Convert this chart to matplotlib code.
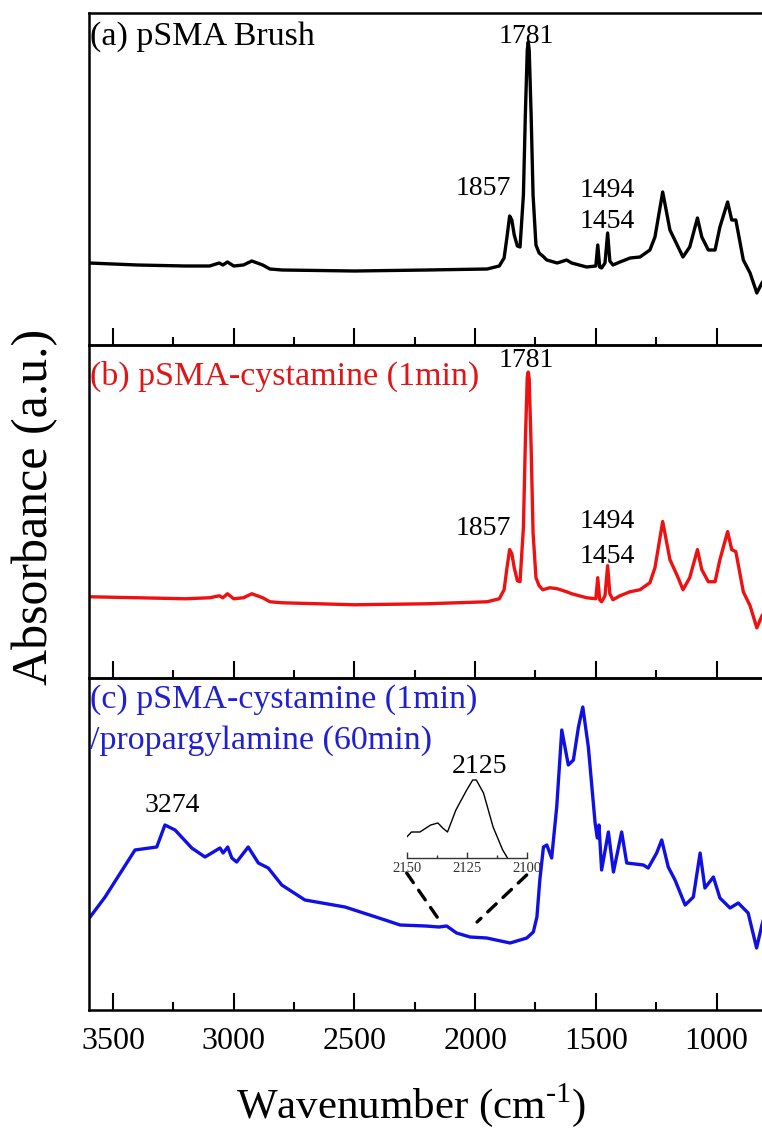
import matplotlib
matplotlib.use("Agg")
import matplotlib.pyplot as plt
from matplotlib.patches import ConnectionPatch
from matplotlib.ticker import MultipleLocator

plt.rcParams['font.family'] = ['Liberation Serif', 'DejaVu Serif']
plt.rcParams['mathtext.fontset'] = 'custom'
plt.rcParams['mathtext.rm'] = 'Liberation Serif'

# (a) pSMA brush
wn_a = [3600, 3400, 3200, 3100, 3060, 3045, 3026, 3000, 2960, 2925, 2880, 2850, 2800,
        2500, 2200, 1950, 1900, 1880, 1868, 1857, 1848, 1838, 1825, 1814, 1800, 1792,
        1784, 1780, 1776, 1768, 1760, 1748, 1735, 1720, 1703, 1660, 1621, 1600, 1538,
        1500, 1492, 1484, 1476, 1462, 1451, 1442, 1429, 1400, 1358, 1317, 1276, 1255,
        1223, 1193, 1159, 1139, 1111, 1079, 1061, 1034, 1006, 986, 954, 937, 920, 889,
        861, 833, 812, 800]
abs_a = [82, 80, 79, 79, 82, 80, 83, 79, 80, 84, 80, 76, 75,
         74, 75, 76, 79, 87, 108, 129, 125, 110, 99, 98, 150, 230,
         295, 303, 295, 230, 150, 100, 92, 89, 85, 82, 85, 82, 78,
         79, 100, 78, 77, 82, 112, 84, 80, 83, 87, 88, 95, 108,
         153, 115, 98, 88, 98, 127, 108, 95, 95, 118, 143, 125, 125, 85,
         72, 52, 62, 66]

# (b) pSMA-cystamine (1 min)
wn_b = [3600, 3400, 3200, 3100, 3060, 3045, 3026, 3000, 2960, 2925, 2880, 2850, 2800,
        2500, 2200, 1950, 1900, 1880, 1868, 1857, 1848, 1838, 1825, 1814, 1800, 1792,
        1784, 1780, 1776, 1768, 1760, 1748, 1735, 1720, 1690, 1660, 1621, 1600, 1538,
        1500, 1492, 1484, 1476, 1462, 1451, 1442, 1429, 1400, 1358, 1317, 1276, 1255,
        1223, 1193, 1159, 1139, 1111, 1079, 1061, 1034, 1006, 986, 954, 937, 920, 889,
        861, 833, 812, 800]
abs_b = [81, 80, 79, 80, 82, 80, 84, 79, 80, 84, 80, 76, 75,
         73, 74, 76, 79, 88, 110, 128, 124, 110, 97, 96, 150, 235,
         300, 305, 298, 230, 145, 100, 92, 88, 90, 89, 86, 84, 80,
         79, 100, 78, 76, 82, 112, 84, 78, 82, 86, 88, 95, 110,
         156, 118, 100, 88, 100, 128, 108, 96, 96, 118, 146, 128, 126, 86,
         72, 50, 62, 66]

# (c) pSMA-cystamine (1 min) / propargylamine (60 min)
wn_c = [3595, 3533, 3409, 3319, 3285, 3243, 3174, 3119, 3057, 3044, 3025, 3008, 2988,
        2940, 2898, 2857, 2801, 2705, 2539, 2373, 2311, 2205, 2150, 2118, 2077, 2021,
        1952, 1855, 1786, 1759, 1744, 1732, 1717, 1703, 1683, 1662, 1641, 1614, 1593,
        1572, 1554, 1531, 1503, 1494, 1487, 1476, 1448, 1427, 1393, 1372, 1303, 1283,
        1248, 1227, 1200, 1172, 1130, 1096, 1068, 1048, 1013, 986, 944, 910, 869, 834,
        812, 800]
abs_c = [93, 113, 160, 163, 185, 180, 162, 153, 162, 157, 163, 152, 148,
         163, 147, 142, 125, 110, 103, 90, 85, 84, 83, 84, 77, 73,
         72, 67, 72, 78, 93, 130, 163, 165, 152, 203, 280, 245, 250,
         283, 303, 263, 187, 172, 185, 140, 178, 138, 178, 147, 145, 142,
         157, 170, 143, 130, 105, 113, 157, 122, 133, 112, 102, 107, 97, 62,
         85, 95]

# inset: C≡C stretch region
wn_ins = [2150, 2148, 2144.5, 2140, 2137, 2135, 2133, 2129.5, 2125, 2122.5, 2121,
          2118, 2114, 2110, 2108]
abs_ins = [21, 26, 26, 33, 35, 30, 26, 48, 68, 78, 78, 65, 31, 8, 0]

W, H = 762, 1141
fig = plt.figure(figsize=(W / 100, H / 100), dpi=100)

left = 88.9 / W
width = 675.9 / W
tops = [13, 345, 678]
bottoms = [345, 678, 1010]
axes = []
for t, b in zip(tops, bottoms):
    ax = fig.add_axes([left, 1 - b / H, width, (b - t) / H])
    axes.append(ax)

series = [(wn_a, abs_a, 'black'), (wn_b, abs_b, '#ee1111'), (wn_c, abs_c, '#1010e6')]
for ax, (x, y, c) in zip(axes, series):
    ax.plot(x, y, color=c, lw=2.4)
    ax.set_xlim(3600, 800)
    ax.set_ylim(0, 332)
    ax.set_yticks([])
    ax.xaxis.set_major_locator(MultipleLocator(500))
    ax.xaxis.set_minor_locator(MultipleLocator(250))
    ax.tick_params(axis='x', which='major', direction='in', length=12, width=1.5,
                   labelsize=23, pad=12, top=False)
    ax.tick_params(axis='x', which='minor', direction='in', length=6, width=1.5,
                   top=False)
    for s in ax.spines.values():
        s.set_linewidth(1.8)
    ax.patch.set_alpha(0)

axes[0].tick_params(labelbottom=False)
axes[1].tick_params(labelbottom=False)

ax_a, ax_b, ax_c = axes
lab = dict(ha='center', va='baseline', fontsize=20)
ax_a.text(3595, 300, '(a) pSMA Brush', ha='left', va='baseline', fontsize=24.5)
ax_a.text(1789, 302, '1781', **lab)
ax_a.text(1967, 150, '1857', **lab)
ax_a.text(1454, 148, '1494', **lab)
ax_a.text(1454, 117, '1454', **lab)

ax_b.text(3595, 292, '(b) pSMA-cystamine (1min)', ha='left', va='baseline',
          fontsize=24.5, color='#e01515')
ax_b.text(1789, 310, '1781', **lab)
ax_b.text(1967, 143, '1857', **lab)
ax_b.text(1454, 150, '1494', **lab)
ax_b.text(1454, 115, '1454', **lab)

ax_c.text(3595, 302, '(c) pSMA-cystamine (1min)', ha='left', va='baseline',
          fontsize=24.5, color='#2020d0')
ax_c.text(3595, 261, '/propargylamine (60min)', ha='left', va='baseline',
          fontsize=24.5, color='#2020d0')
ax_c.text(3256, 198, '3274', **lab)
ax_c.text(1980, 237, '2125', **lab)

ax_c.set_xlabel(r'Wavenumber (cm$^{\text{-1}}$)', fontsize=31)
ax_c.xaxis.set_label_coords(0.4765, -0.215)
fig.text(35 / W, 1 - 507 / H, 'Absorbance (a.u.)', rotation=90, ha='center',
         va='center', fontsize=36)

# inset
axins = fig.add_axes([406.7 / W, 1 - 858 / H, 120 / W, 83 / H])
axins.plot(wn_ins, abs_ins, color='black', lw=1.0)
axins.set_xlim(2150, 2100)
axins.set_ylim(0, 83)
axins.set_yticks([])
axins.set_xticks([2150, 2125, 2100])
axins.xaxis.set_minor_locator(MultipleLocator(12.5))
for k in ['left', 'right', 'top']:
    axins.spines[k].set_visible(False)
axins.spines['bottom'].set_linewidth(1.0)
axins.spines['bottom'].set_color('#333333')
axins.tick_params(axis='x', which='major', direction='in', length=4, width=1,
                  labelsize=10.5, pad=3, colors='#333333')
axins.tick_params(axis='x', which='minor', direction='in', length=2.5, width=1,
                  colors='#333333')
axins.patch.set_alpha(0)

for xa, ya, xb, yb in [(2150, -15, 2149, 90), (2100, -17, 1992, 88)]:
    con = ConnectionPatch(xyA=(xa, ya), coordsA=axins.transData,
                          xyB=(xb, yb), coordsB=ax_c.transData,
                          color='black', lw=2.4, linestyle=(0, (3.5, 2.8)))
    fig.add_artist(con)

fig.savefig('out.png', dpi=100)
